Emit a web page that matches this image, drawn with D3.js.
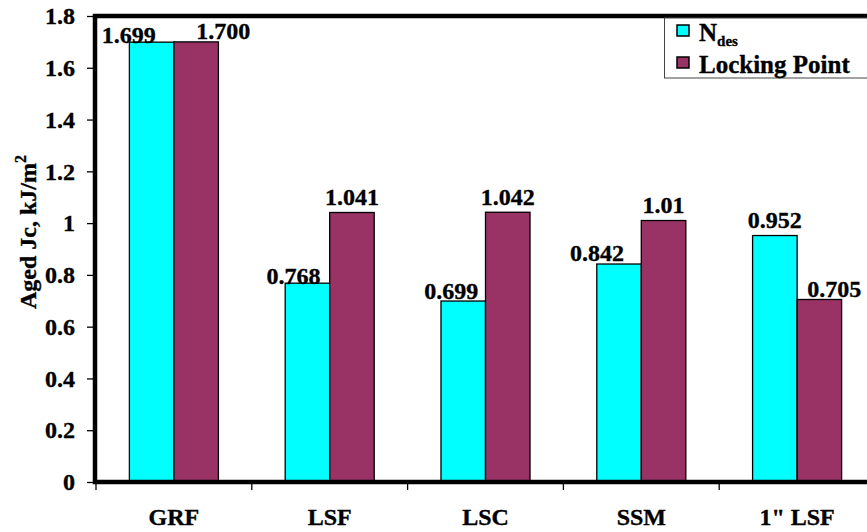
<!DOCTYPE html>
<html>
<head>
<meta charset="utf-8">
<script src="https://cdn.jsdelivr.net/npm/d3@7"></script>
<style>
  html, body { margin: 0; padding: 0; background: #fff; }
  svg { display: block; }
  text { font-family: "Liberation Serif", "Times New Roman", serif; font-weight: bold; fill: #000; stroke: #000; stroke-width: 0.35px; }
</style>
</head>
<body>
<svg id="chart" width="867" height="532"></svg>
<script>
// ---- data ----
const categories = ["GRF", "LSF", "LSC", "SSM", "1\" LSF"];
const seriesNames = ["Ndes", "Locking Point"];
const ndesValues = [1.699, 0.768, 0.699, 0.842, 0.952];
const lockingValues = [1.700, 1.041, 1.042, 1.01, 0.705];
const ndesLabels = ["1.699", "0.768", "0.699", "0.842", "0.952"];
const lockingLabels = ["1.700", "1.041", "1.042", "1.01", "0.705"];
const yTicks = [0, 0.2, 0.4, 0.6, 0.8, 1, 1.2, 1.4, 1.6, 1.8];
// label nudges (dx, dy from bar top) as placed in the original
const ndesLabelShift = [[-23, 1], [-14, 1], [-12, -2], [-22, -3], [0, -8]];
const lockingLabelShift = [[27, -3], [0, -7], [0, -7], [0, -8], [15, -2]];

const colors = { "Ndes": "#00FFFF", "Locking Point": "#993366" };

const svg = d3.select("#chart");
const pLeft = 95, pRight = 875, pTop = 16, pBottom = 482;

const x0 = d3.scaleBand().domain(categories).range([pLeft + 1, pRight]).padding(0);
const x1 = d3.scaleBand().domain(seriesNames).range([0, x0.bandwidth()]).paddingInner(0).paddingOuter(0.75);
const y = d3.scaleLinear().domain([0, 1.8]).range([pBottom, pTop]);

const rows = categories.map((c, i) => ({
  cat: c,
  vals: [
    { s: "Ndes", v: ndesValues[i], label: ndesLabels[i], shift: ndesLabelShift[i] },
    { s: "Locking Point", v: lockingValues[i], label: lockingLabels[i], shift: lockingLabelShift[i] }
  ]
}));

// bars
const g = svg.append("g");
const grp = g.selectAll("g.cat").data(rows).join("g")
  .attr("transform", d => `translate(${x0(d.cat)},0)`);
grp.selectAll("rect").data(d => d.vals).join("rect")
  .attr("x", d => x1(d.s))
  .attr("y", d => y(d.v))
  .attr("width", x1.bandwidth())
  .attr("height", d => y(0) - y(d.v))
  .attr("fill", d => colors[d.s])
  .attr("stroke", "#000")
  .attr("stroke-width", 1.3);

grp.selectAll("text").data(d => d.vals).join("text")
  .attr("x", d => x1(d.s) + x1.bandwidth() / 2 + d.shift[0])
  .attr("y", d => y(d.v) + d.shift[1])
  .attr("text-anchor", "middle")
  .attr("font-size", 24)
  .text(d => d.label);

// frame (plot area border)
svg.append("rect")
  .attr("x", pLeft).attr("y", pTop)
  .attr("width", pRight - pLeft).attr("height", pBottom - pTop)
  .attr("fill", "none").attr("stroke", "#000").attr("stroke-width", 4.5);

// y axis
const yAxis = d3.axisLeft(y).tickValues(yTicks).tickSize(7).tickPadding(12)
  .tickFormat(d => d3.format("")(d));
const ya = svg.append("g").attr("transform", `translate(${pLeft - 1},0)`).call(yAxis);
ya.select(".domain").remove();
ya.selectAll(".tick line").attr("stroke", "#000").attr("stroke-width", 1.3);
ya.selectAll(".tick text").attr("font-size", 24).attr("font-family", "Liberation Serif").attr("font-weight", "bold").attr("fill", "#000");

// x axis: category boundary ticks and labels
const xa = svg.append("g").attr("transform", `translate(0,${pBottom})`).call(d3.axisBottom(x0).tickSize(0).tickPadding(26));
xa.select(".domain").remove();
xa.selectAll(".tick text").attr("font-size", 24).attr("font-family", "Liberation Serif").attr("font-weight", "bold").attr("fill", "#000");
svg.append("g").selectAll("line").data(categories).join("line")
  .attr("x1", d => x0(d)).attr("x2", d => x0(d))
  .attr("y1", pBottom + 2).attr("y2", pBottom + 8)
  .attr("stroke", "#000").attr("stroke-width", 1.3);

// y axis title
const yt = svg.append("text")
  .attr("transform", "translate(36,232) rotate(-90)")
  .attr("text-anchor", "middle")
  .attr("font-size", 24);
yt.append("tspan").text("Aged Jc, kJ/m");
yt.append("tspan").attr("font-size", 16).attr("dy", -10).text("2");

// legend
const lg = svg.append("g");
lg.append("rect").attr("x", 664.5).attr("y", 18).attr("width", 220).attr("height", 60)
  .attr("fill", "#fff").attr("stroke", "#444").attr("stroke-width", 1);
const legendRows = [{ s: "Ndes", yb: 41 }, { s: "Locking Point", yb: 73 }];
legendRows.forEach(r => {
  lg.append("rect").attr("x", 677).attr("y", r.yb - 16).attr("width", 12).attr("height", 11)
    .attr("fill", colors[r.s]).attr("stroke", "#000").attr("stroke-width", 1.5);
});
const t1 = lg.append("text").attr("x", 699).attr("y", 41).attr("font-size", 25);
t1.append("tspan").text("N");
t1.append("tspan").attr("font-size", 15).attr("dy", 5).text("des");
lg.append("text").attr("x", 699).attr("y", 73).attr("font-size", 25).text("Locking Point");
</script>
</body>
</html>
